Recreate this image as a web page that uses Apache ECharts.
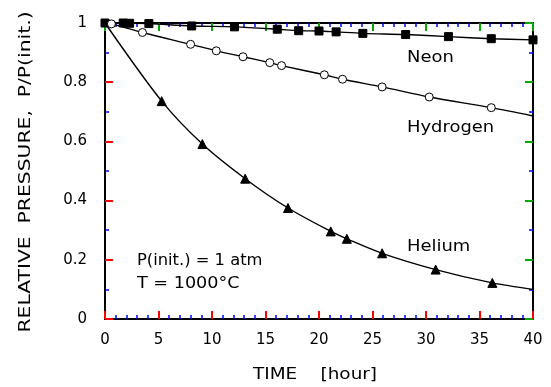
<!DOCTYPE html>
<html>
<head>
<meta charset="utf-8">
<script src="https://cdn.jsdelivr.net/npm/echarts@6/dist/echarts.min.js"></script>
<style>
  html, body { margin: 0; padding: 0; background: #fff; }
  #chart { width: 551px; height: 387px; }
</style>
</head>
<body>
<div id="chart"></div>
<script>
// values: time [hour] vs relative pressure
const neonTime = [0, 1.7, 2.3, 4.1, 8.1, 12.1, 16.1, 18.1, 20.0, 21.6, 24.1, 28.1, 32.1, 36.1, 40];
const neonPressure = [1.0, 1.0, 0.999, 0.998, 0.990, 0.987, 0.979, 0.974, 0.973, 0.970, 0.965, 0.961, 0.954, 0.947, 0.943];

const hydrogenTime = [0.6, 3.5, 8.0, 10.4, 12.9, 15.4, 16.5, 20.5, 22.2, 25.9, 30.3, 36.1];
const hydrogenPressure = [0.997, 0.968, 0.928, 0.906, 0.886, 0.866, 0.856, 0.825, 0.810, 0.784, 0.750, 0.714];
const hydrogenCurveEnds = [[0, 1.0], [40, 0.686]];

const heliumTime = [5.3, 9.1, 13.1, 17.1, 21.1, 22.6, 25.9, 30.9, 36.2];
const heliumPressure = [0.736, 0.591, 0.474, 0.375, 0.296, 0.271, 0.222, 0.167, 0.122];
const heliumCurveEnds = [[0, 1.0], [40, 0.100]];

const gasLabels = ["Neon", "Hydrogen", "Helium"];
const noteLines = ["P(init.) = 1 atm", "T = 1000°C"];

const FONT = "DejaVu Sans";
const pairs = (xs, ys) => xs.map((x, i) => [x, ys[i]]);
const curve = (xs, ys, ends) => [ends[0], ...pairs(xs, ys), ends[1]];

const chart = echarts.init(document.getElementById("chart"));

// tick colours are temporary, to see which ticks get drawn
const makeAxis = (position, max, interval, minorSplit, withLabels, tickColor) => ({
  type: "value",
  position: position,
  min: 0,
  max: max,
  interval: interval,
  axisLine: { show: true, onZero: false, lineStyle: { color: "#000", width: 2 } },
  axisTick: { show: true, inside: true, length: 8, lineStyle: { color: tickColor, width: 2 } },
  minorTick: { show: true, splitNumber: minorSplit, length: 4, lineStyle: { color: "#00f", width: 1.5 } },
  splitLine: { show: false },
  axisLabel: withLabels
    ? { show: true, color: "#000", fontFamily: FONT, fontSize: 15, margin: position === "left" ? 18 : 14 }
    : { show: false },
});

const lineSeries = (data) => ({
  type: "line",
  data: data,
  smooth: 0.3,
  showSymbol: false,
  silent: true,
  lineStyle: { color: "#000", width: 1.4 },
  z: 2,
});

const markSeries = (data, symbol, fill, size) => ({
  type: "scatter",
  data: data,
  symbol: symbol,
  symbolSize: size,
  itemStyle: { color: fill, borderColor: "#000", borderWidth: 1, opacity: 1 },
  z: 3,
});

const textStyle = (text, size) => ({
  text: text,
  fill: "#000",
  font: size + "px '" + FONT + "'",
  verticalAlign: "middle",
});

const options = {
  animation: false,
  grid: { left: 105, right: 18, top: 23, bottom: 68 },
  xAxis: [makeAxis("bottom", 40, 5, 5, true, "#f00"), makeAxis("top", 40, 5, 5, false, "#0a0")],
  yAxis: [makeAxis("left", 1, 0.2, 2, true, "#f00"), makeAxis("right", 1, 0.2, 2, false, "#0a0")],
  series: [
    lineSeries(pairs(neonTime, neonPressure)),
    lineSeries(curve(hydrogenTime, hydrogenPressure, hydrogenCurveEnds)),
    lineSeries(curve(heliumTime, heliumPressure, heliumCurveEnds)),
    markSeries(pairs(neonTime, neonPressure), "rect", "#000", 8),
    markSeries(pairs(hydrogenTime, hydrogenPressure), "circle", "#fff", 8),
    markSeries(pairs(heliumTime, heliumPressure), "triangle", "#000", 9),
  ],
  graphic: [
    { type: "text", x: 407, y: 58, scaleX: 1.12, style: textStyle(gasLabels[0], 16) },
    { type: "text", x: 407, y: 128, scaleX: 1.12, style: textStyle(gasLabels[1], 16) },
    { type: "text", x: 407, y: 247, scaleX: 1.12, style: textStyle(gasLabels[2], 16) },
    { type: "text", x: 137, y: 261, scaleX: 1.02, style: textStyle(noteLines[0], 16) },
    { type: "text", x: 137, y: 284, scaleX: 1.1, style: textStyle(noteLines[1], 16) },
    {
      type: "text", x: 315, y: 375, scaleX: 1.15,
      style: { ...textStyle("TIME    [hour]", 16), align: "center" },
    },
    {
      type: "text", x: 26, y: 172, rotation: Math.PI / 2, scaleX: 1.27,
      style: { ...textStyle("RELATIVE  PRESSURE,  P/P(init.)", 16), align: "center" },
    },
  ],
};

chart.setOption(options);
</script>
</body>
</html>
